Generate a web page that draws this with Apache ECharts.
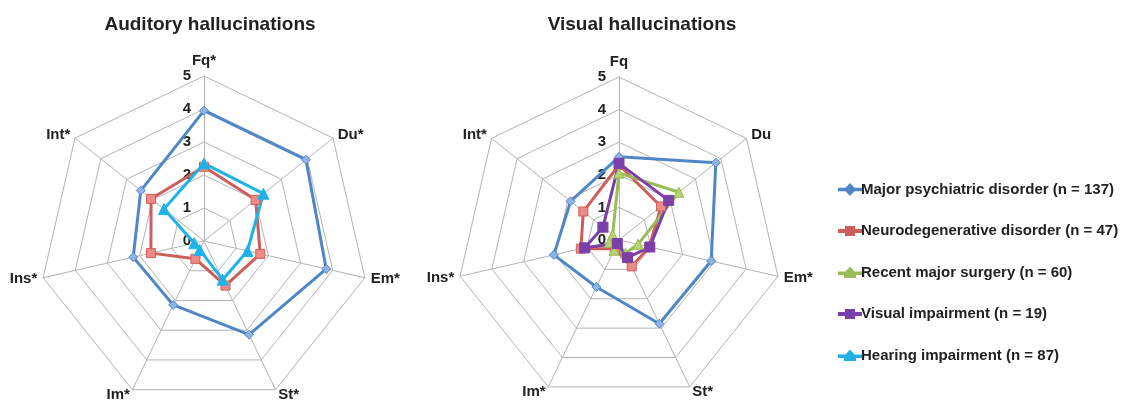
<!DOCTYPE html>
<html><head><meta charset="utf-8">
<script src="https://cdn.jsdelivr.net/npm/echarts@6/dist/echarts.min.js"></script>
<style>html,body{margin:0;padding:0;background:#fff}#c{width:1121px;height:401px}</style>
</head><body><div id="c"></div>
<script>
const dimsAud = ['Fq*','Du*','Em*','St*','Im*','Ins*','Int*'];
const dimsVis = ['Fq','Du','Em*','St*','Im*','Ins*','Int*'];
const tickLabels = ['0','1','2','3','4','5'];
const names = ['Major psychiatric disorder (n = 137)','Neurodegenerative disorder (n = 47)','Recent major surgery (n = 60)','Visual impairment (n = 19)','Hearing impairment (n = 87)'];
// values in order Fq, Du, Em, St, Im, Ins, Int
const audMajor   = [3.95, 3.95, 3.8, 3.15, 2.15, 2.2, 2.45];
const audNeuro   = [2.25, 2.0, 1.75, 1.5, 0.6, 1.65, 2.05];
const audHearing = [2.35, 2.3, 1.35, 1.3, 0.3, 0.3, 1.55];
const visMajor   = [2.55, 3.8, 2.9, 2.85, 1.6, 2.05, 1.9];
const visNeuro   = [2.3, 1.65, 0.95, 0.9, 0.3, 1.2, 1.4];
const visSurgery = [2.05, 2.35, 0.6, 0.45, 0.35, 0.3, 0.25];
const visVisual  = [2.35, 1.95, 0.97, 0.6, 0.12, 1.08, 0.63];

const styles = {
  [names[0]]: {line:'#4F86C6', fill:'#8FB4E3', symbol:'diamond', size:9},
  [names[1]]: {line:'#CD5E59', fill:'#EC8A85', symbol:'rect', size:9},
  [names[2]]: {line:'#9BBB59', fill:'#B5D36E', symbol:'triangle', size:10},
  [names[3]]: {line:'#7B3FA9', fill:'#7B3FA9', symbol:'rect', size:10},
  [names[4]]: {line:'#1EB3E6', fill:'#1EB3E6', symbol:'triangle', size:11}
};
// ECharts lays indicators counter-clockwise; reorder so Du is upper-right
const order = [0,6,5,4,3,2,1];
const ro = arr => order.map(i => arr[i]);
const maxV = 5;
function indicators(dims){
  return order.map((i,k) => {
    const o = {name: dims[i], min: 0, max: maxV};
    if (k === 0) o.axisLabel = {show: true, showMinLabel: true, showMaxLabel: true, color:'#222', fontSize:15, fontWeight:'bold', fontFamily:'Liberation Sans, Arial', margin:13, formatter: v => tickLabels[Math.round(v)]};
    return o;
  });
}
function item(name, vals){
  const s = styles[name];
  return {name, value: ro(vals), symbol: s.symbol, symbolSize: s.size,
    lineStyle:{color:s.line, width:3},
    itemStyle:{color:s.fill, borderColor:s.line, borderWidth:1}};
}
const radarCommon = {
  shape:'polygon', splitNumber:5, startAngle:90,
  axisName:{color:'#222', fontSize:15, fontWeight:'bold', fontFamily:'Liberation Sans, Arial'},
  nameGap:6,
  splitLine:{lineStyle:{color:'#b4b4b4', width:1}},
  splitArea:{show:false},
  axisLine:{lineStyle:{color:'#b4b4b4', width:1}},
  axisTick:{show:false},
  axisLabel:{show:false}
};
const legendIcons = {
  diamond:'path://M0,4.2 L7,4.2 L11,0 L15,4.2 L22,4.2 L22,5.8 L15,5.8 L11,10 L7,5.8 L0,5.8 Z',
  rect:'path://M0,4 L7,4 L7,1 L15,1 L15,4 L22,4 L22,6 L15,6 L15,9 L7,9 L7,6 L0,6 Z',
  triangle:'path://M0,4.5 L7,4.5 L11,0 L15,4.5 L22,4.5 L22,6 L16,6 L16,9 L6,9 L6,6 L0,6 Z'
};
const chart = echarts.init(document.getElementById('c'), null, {renderer:'canvas'});
chart.setOption({
  animation:false,
  backgroundColor:'#fff',
  title:[
    {text:'Auditory hallucinations', left:205, top:10, textAlign:'center', textStyle:{fontSize:19, fontWeight:'bold', color:'#222', fontFamily:'Liberation Sans, Arial'}},
    {text:'Visual hallucinations', left:637, top:10, textAlign:'center', textStyle:{fontSize:19, fontWeight:'bold', color:'#222', fontFamily:'Liberation Sans, Arial'}}
  ],
  legend:{
    orient:'vertical', left:833, top:177, itemGap:26.5, itemWidth:22, itemHeight:10,
    textStyle:{fontSize:15, fontWeight:'bold', color:'#222', fontFamily:'Liberation Sans, Arial', padding:[0,0,0,-5]},
    data: names.map(n => ({name:n, icon: legendIcons[styles[n].symbol], itemStyle:{color:styles[n].line}}))
  },
  radar:[
    Object.assign({center:[204,241], radius:165, indicator: indicators(dimsAud)}, radarCommon),
    Object.assign({center:[619,240], radius:163, indicator: indicators(dimsVis)}, radarCommon)
  ],
  series:[
    {type:'radar', radarIndex:0, data:[item(names[0], audMajor), item(names[1], audNeuro), item(names[4], audHearing)]},
    {type:'radar', radarIndex:1, data:[item(names[0], visMajor), item(names[1], visNeuro), item(names[2], visSurgery), item(names[3], visVisual)]}
  ]
});
</script></body></html>
